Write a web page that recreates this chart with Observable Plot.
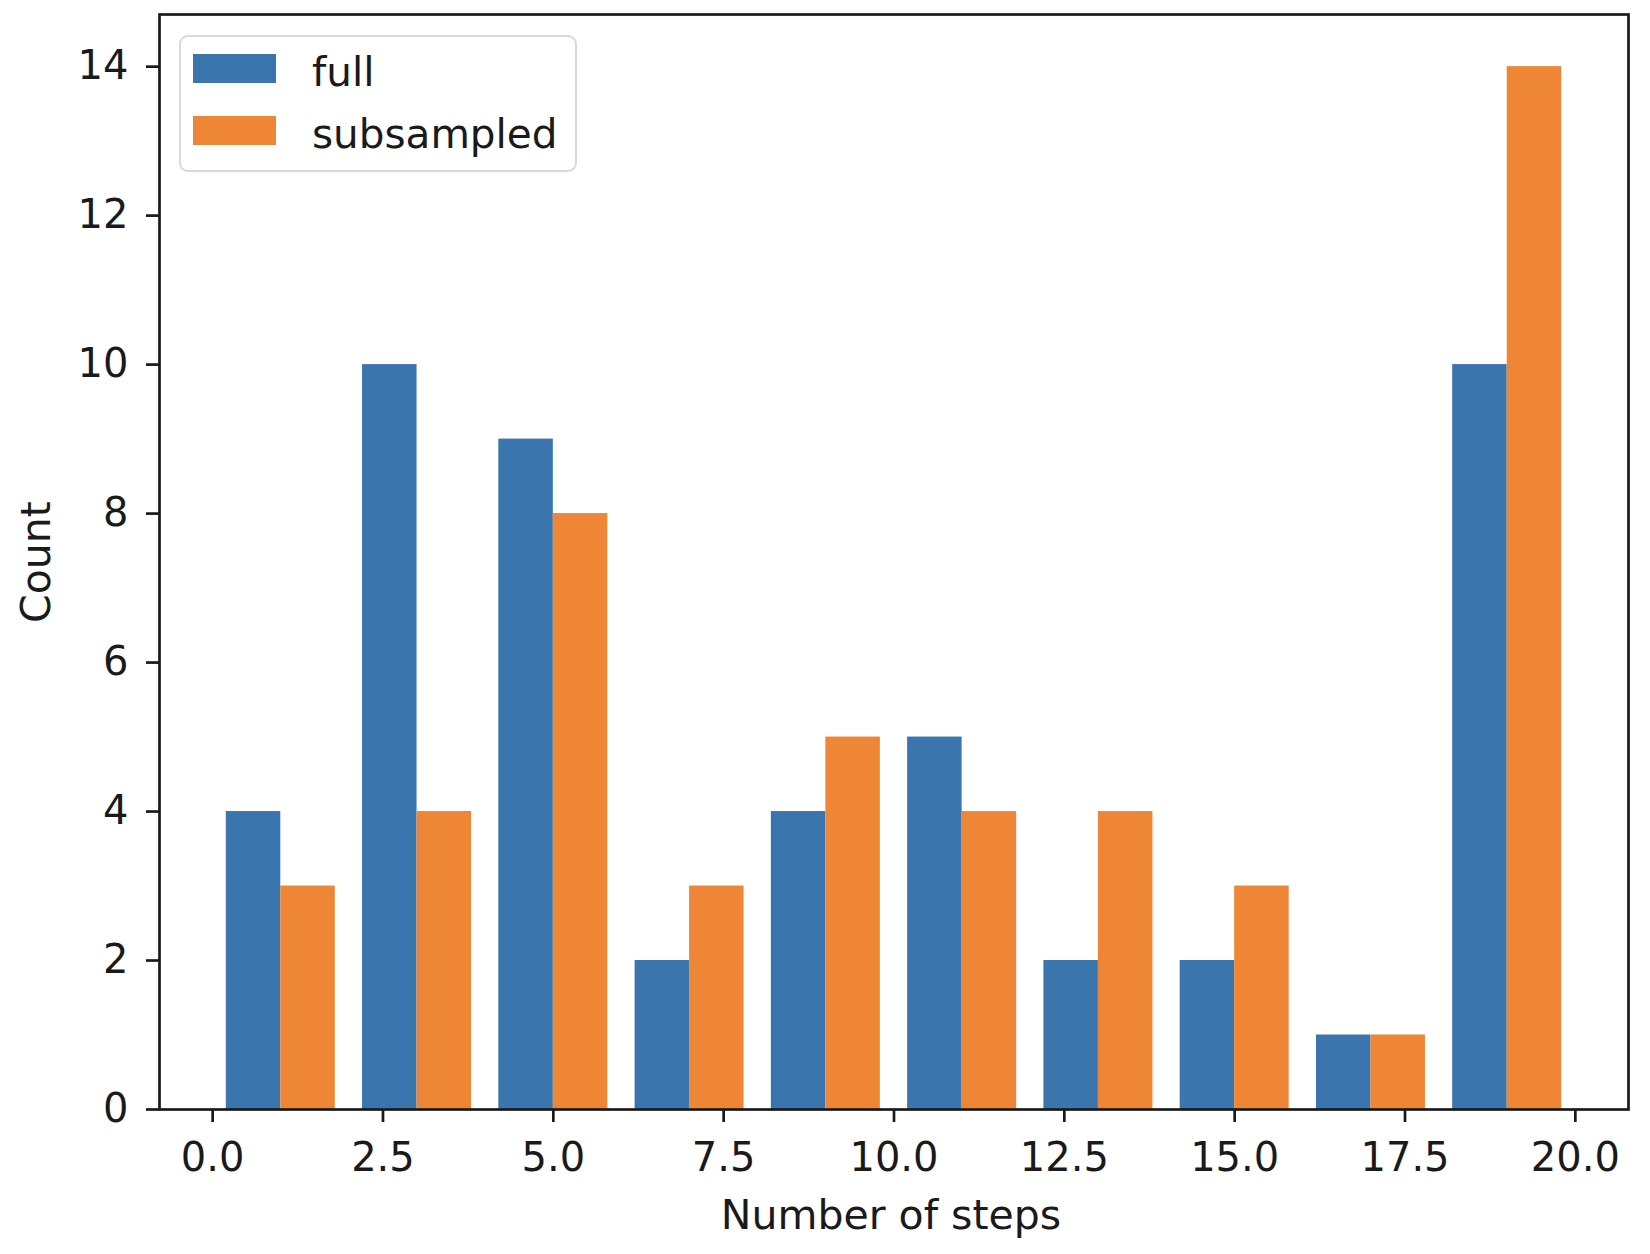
<!DOCTYPE html>
<html>
<head>
<meta charset="utf-8">
<script src="https://cdn.jsdelivr.net/npm/d3@7"></script>
<script src="https://cdn.jsdelivr.net/npm/@observablehq/plot@0.6"></script>
<style>
  html, body { margin: 0; padding: 0; background: #fff; }
  #fig { position: relative; width: 1650px; height: 1254px; font-family: "DejaVu Sans", sans-serif; }
  #legend {
    position: absolute; left: 179px; top: 35px; width: 394px; height: 133px;
    border: 2px solid #d9d9d9; border-radius: 9px; background: rgba(255,255,255,0.8);
    box-sizing: content-box;
  }
  .lg-item { position: absolute; left: 0; height: 40px; }
  .lg-swatch { position: absolute; left: 12px; width: 83px; height: 29px; top: 0; }
  .lg-label { position: absolute; left: 131px; top: -2px; font-size: 40.5px; line-height: 40px; color: #1a1a1a; white-space: nowrap; }
</style>
</head>
<body>
<div id="fig"></div>
<script>
// ---- data ----
const binEdges = [0, 2, 4, 6, 8, 10, 12, 14, 16, 18, 20];
const seriesNames = ["full", "subsampled"];
const fullCounts = [4, 10, 9, 2, 4, 5, 2, 2, 1, 10];
const subsampledCounts = [3, 4, 8, 3, 5, 4, 4, 3, 1, 14];
const xTicks = [0, 2.5, 5, 7.5, 10, 12.5, 15, 17.5, 20];
const yTicks = [0, 2, 4, 6, 8, 10, 12, 14];
const seriesColors = ["#3a75ae", "#ee8636"];
const xLabel = "Number of steps";
const yLabel = "Count";

// ---- build table (matplotlib-style grouped histogram: 80% of bin, split per series) ----
const countsBySeries = [fullCounts, subsampledCounts];
const rows = [];
countsBySeries.forEach((counts, s) => {
  counts.forEach((c, i) => {
    const b0 = binEdges[i], b1 = binEdges[i + 1];
    const w = (b1 - b0) * 0.8 / countsBySeries.length;
    const x1 = b0 + (b1 - b0) * 0.1 + s * w;
    rows.push({series: seriesNames[s], x1, x2: x1 + w, count: c});
  });
});
const xmin = d3.min(rows, d => d.x1), xmax = d3.max(rows, d => d.x2);
const xpad = (xmax - xmin) * 0.05;
const ymax = d3.max(rows, d => d.count) * 1.05;

const ink = "#1a1a1a";
const chart = Plot.plot({
  width: 1650,
  height: 1254,
  marginLeft: 159,
  marginRight: 22,
  marginTop: 14,
  marginBottom: 145,
  style: {fontFamily: "DejaVu Sans, sans-serif", fontSize: "40px", color: ink, background: "#fff", overflow: "visible"},
  x: {domain: [xmin - xpad, xmax + xpad]},
  y: {domain: [0, ymax]},
  color: {domain: seriesNames, range: seriesColors},
  marks: [
    Plot.rectY(rows, {x1: "x1", x2: "x2", y: "count", fill: "series"}),
    Plot.frame({stroke: ink, strokeWidth: 2.7}),
    Plot.axisX({ticks: xTicks, tickFormat: d3.format(".1f"), tickSize: 13, tickPadding: 20, strokeWidth: 2.7, stroke: ink, label: null, fontSize: 40}),
    Plot.axisY({ticks: yTicks, tickFormat: d3.format("d"), tickSize: 13, tickPadding: 18, strokeWidth: 2.7, stroke: ink, label: null, fontSize: 40}),
    Plot.text([xLabel], {frameAnchor: "bottom", dx: -3, dy: 106, text: d => d, fontSize: 41, lineAnchor: "middle", textAnchor: "middle", fill: ink}),
    Plot.text([yLabel], {frameAnchor: "left", dx: -123, rotate: -90, text: d => d, fontSize: 41, lineAnchor: "middle", textAnchor: "middle", fill: ink})
  ]
});
const fig = document.getElementById("fig");
fig.appendChild(chart);

// ---- legend (HTML overlay, upper-left inside axes) ----
const legend = document.createElement("div");
legend.id = "legend";
seriesNames.forEach((name, i) => {
  const item = document.createElement("div");
  item.className = "lg-item";
  item.style.top = (17 + i * 62) + "px";
  const sw = document.createElement("div");
  sw.className = "lg-swatch";
  sw.style.background = seriesColors[i];
  const lb = document.createElement("div");
  lb.className = "lg-label";
  lb.textContent = name;
  item.appendChild(sw);
  item.appendChild(lb);
  legend.appendChild(item);
});
fig.appendChild(legend);
</script>
</body>
</html>
